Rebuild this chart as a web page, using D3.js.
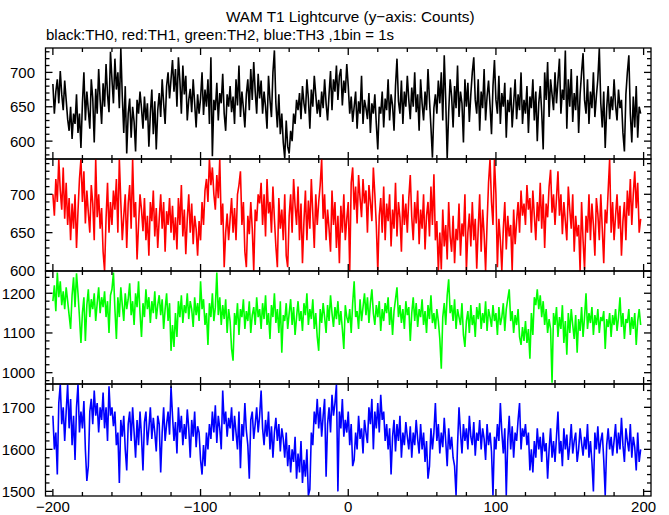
<!DOCTYPE html>
<html><head><meta charset="utf-8">
<script src="https://cdn.jsdelivr.net/npm/d3@7/dist/d3.min.js"></script>
<style>body{margin:0;background:#fff}svg{display:block}text{font-family:"Liberation Sans",Arial,sans-serif}</style>
</head><body>
<svg id="c" width="669" height="515"></svg>
<script>
// ---- data (counts per 1 s bin, first bin at t = -200 s) ----
const binStart = -200;
const binSize = 1;

const th0 = [
683,640,672,690,655,702,668,645,688,660,632,615,650,603,640,625,668,612,640,590,
655,700,630,672,645,618,690,662,598,676,640,705,660,625,684,650,712,668,642,730,
690,655,720,675,700,648,735,665,612,680,582,640,662,605,650,628,585,660,640,672,
648,618,665,630,655,592,640,675,610,658,588,645,670,635,690,655,625,680,700,662,
690,718,672,705,650,722,688,640,710,668,695,630,660,676,642,690,655,620,668,640,
662,700,638,675,650,690,625,722,578,660,645,685,630,670,655,698,640,615,668,650,
680,642,665,625,690,652,710,635,672,648,620,668,690,645,705,660,715,672,640,698,
662,688,640,672,650,618,695,660,635,700,732,655,620,668,610,640,598,575,630,592,
582,615,600,640,625,660,645,670,632,680,655,640,690,662,618,675,650,695,668,640,
660,635,672,648,690,655,630,668,702,645,690,672,710,660,695,705,652,688,670,712,
680,640,665,628,650,672,618,658,640,695,625,660,648,632,670,612,655,640,668,625,
588,650,640,672,620,662,645,690,630,668,652,615,680,720,658,640,688,625,672,650,
695,660,632,678,650,700,642,668,615,690,655,630,672,645,705,660,620,576,648,668,
640,688,655,700,630,725,660,575,642,690,665,620,680,648,710,635,672,655,598,690,
650,685,628,668,700,722,660,640,690,615,672,648,705,630,665,688,652,610,680,718,
660,640,695,625,670,650,685,605,660,642,678,620,655,690,632,668,645,700,625,660,
640,680,612,665,648,690,630,672,600,655,680,642,588,700,660,715,635,690,668,645,
700,655,688,720,640,675,660,732,618,690,650,705,628,670,645,695,612,668,700,728,
660,640,690,625,672,648,700,635,665,690,735,655,620,672,590,648,680,632,665,645,
690,652,630,675,648,660,612,585,668,700,725,640,598,665,620,680,605,650,640
];

const th1 = [
700,672,720,690,746,705,680,735,668,715,660,695,640,688,655,700,630,678,720,746,
690,730,662,705,676,650,712,688,640,746,670,700,655,682,625,600,668,715,650,690,
660,705,680,720,650,746,690,640,672,700,630,688,712,655,746,670,690,615,660,700,
680,652,695,640,672,620,690,665,705,645,682,630,668,700,655,690,625,678,660,695,
650,685,640,670,628,695,660,712,645,680,622,668,700,650,688,635,672,655,620,665,
640,690,660,705,720,690,746,712,735,700,680,725,695,746,660,688,605,650,675,640,
668,695,650,682,640,700,712,730,660,690,625,605,672,648,690,655,600,680,665,700,
688,715,660,700,645,720,675,690,650,710,668,632,605,695,655,680,640,700,620,605,
672,700,650,720,685,660,710,640,688,610,665,705,640,692,655,720,675,630,700,660,
690,712,746,668,700,640,680,655,625,705,660,690,630,672,610,685,650,700,640,668,
690,600,715,735,680,710,662,725,695,670,720,688,705,650,712,690,665,735,700,660,
600,672,695,650,710,640,688,665,700,632,680,655,715,645,690,670,625,700,660,688,
650,695,725,670,640,690,662,705,635,680,655,700,628,672,690,645,710,660,726,640,
665,600,650,602,680,632,660,615,690,645,625,672,610,655,640,688,620,662,645,700,
600,650,675,632,690,640,668,603,655,700,625,680,648,600,662,715,746,690,660,746,
700,605,668,640,600,655,690,628,672,645,660,600,680,635,665,690,650,705,672,688,
660,712,680,695,650,705,672,640,690,665,715,655,700,630,688,670,710,732,676,700,
660,695,730,672,700,648,690,665,640,710,680,655,700,625,672,645,660,600,690,640,
602,672,650,700,640,688,660,620,695,675,640,700,655,610,680,662,705,746,650,690,
640,672,700,655,685,620,665,690,640,705,672,720,660,700,730,682,715,650,668
];

const th2 = [
1180,1220,1155,1252,1190,1230,1170,1205,1160,1215,1180,1145,1110,1195,1240,1165,1250,1200,1140,1075,
1150,1190,1080,1170,1210,1140,1185,1160,1200,1130,1175,1215,1150,1190,1165,1205,1140,1180,1100,1195,
1210,1252,1160,1085,1190,1140,1215,1170,1130,1200,1160,1185,1225,1145,1180,1120,1200,1165,1230,1150,
1090,1175,1140,1210,1160,1190,1125,1180,1150,1205,1135,1170,1195,1145,1185,1110,1160,1200,1130,1175,
1055,1120,1065,1150,1090,1180,1140,1195,1125,1170,1150,1200,1135,1180,1160,1115,1190,1145,1175,1130,
1230,1160,1185,1120,1150,1070,1175,1140,1200,1130,1165,1252,1145,1190,1120,1170,1135,1185,1100,1160,
1130,1060,1030,1150,1120,1175,1095,1160,1140,1185,1110,1155,1130,1180,1100,1145,1165,1120,1190,1140,
1160,1110,1175,1135,1195,1120,1150,1085,1170,1140,1200,1125,1160,1100,1180,1050,1145,1130,1175,1110,
1150,1185,1120,1165,1095,1140,1180,1130,1155,1105,1175,1145,1200,1120,1160,1135,1185,1110,1150,1090,
1055,1160,1125,1175,1140,1100,1170,1130,1195,1150,1115,1165,1135,1180,1120,1155,1110,1060,1170,1140,
1125,1160,1100,1175,1230,1140,1155,1110,1185,1130,1165,1200,1145,1190,1125,1175,1210,1150,1120,1170,
1140,1180,1105,1160,1130,1175,1150,1190,1120,1165,1095,1155,1185,1215,1140,1170,1125,1160,1110,1180,
1145,1165,1080,1150,1190,1130,1175,1115,1160,1140,1185,1120,1155,1100,1170,1135,1195,1125,1150,1110,
1160,1130,1085,1010,1140,1175,1120,1195,1235,1150,1170,1130,1185,1110,1160,1140,1120,1175,1095,1065,
1130,1155,1100,1170,1120,1145,1090,1165,1135,1175,1110,1150,1125,1180,1105,1160,1140,1115,1170,1130,
1150,1095,1165,1120,1140,1175,1105,1160,1185,1210,1130,1155,1100,1145,1120,1160,1090,1070,1115,1080,
1130,1075,1110,1035,1150,1095,1190,1170,1210,1160,1195,1140,1180,1120,1160,1100,1135,1110,975,1150,
1120,1165,1090,1140,1110,1170,1075,1130,1045,1150,1100,1160,1120,1085,1145,1050,1135,1105,1165,1090,
1140,1200,1110,1150,1125,1165,1095,1145,1120,1160,1100,1140,1130,1155,1060,1135,1115,1150,1090,1145,
1120,1160,1105,1140,1190,1115,1150,1085,1135,1125,1160,1095,1140,1110,1150,1070,1130,1160,1120
];

const th3 = [
1680,1600,1640,1540,1710,1755,1660,1700,1620,1690,1755,1650,1720,1610,1680,1575,1700,1755,1640,1690,
1650,1715,1600,1525,1560,1690,1720,1660,1740,1680,1710,1640,1700,1670,1735,1650,1700,1620,1750,1680,
1700,1655,1690,1610,1640,1520,1670,1630,1680,1600,1550,1660,1690,1620,1700,1640,1580,1670,1610,1690,
1630,1550,1665,1690,1610,1650,1700,1625,1675,1640,1595,1680,1660,1545,1640,1700,1620,1660,1690,1635,
1750,1680,1620,1665,1590,1700,1640,1680,1610,1660,1625,1695,1650,1580,1670,1630,1690,1605,1655,1640,
1575,1540,1610,1560,1640,1600,1660,1625,1690,1640,1705,1615,1680,1650,1600,1740,1660,1690,1630,1675,
1650,1700,1620,1680,1640,1600,1690,1555,1660,1630,1710,1645,1610,1530,1670,1690,1625,1660,1700,1640,
1680,1740,1650,1610,1670,1630,1690,1600,1655,1580,1640,1675,1620,1660,1595,1650,1625,1580,1640,1560,
1610,1545,1600,1570,1630,1530,1590,1545,1620,1520,1575,1535,1600,1490,1505,1640,1610,1690,1660,1720,
1650,1700,1630,1680,1720,1535,1660,1700,1640,1730,1680,1710,1755,1500,1690,1650,1720,1630,1670,1640,
1690,1610,1660,1560,1575,1640,1600,1680,1625,1650,1590,1670,1640,1615,1700,1660,1720,1600,1690,1650,
1710,1640,1730,1670,1690,1620,1660,1600,1650,1540,1630,1670,1595,1660,1620,1680,1580,1640,1610,1665,
1630,1600,1655,1580,1640,1610,1670,1625,1590,1660,1600,1640,1570,1620,1530,1560,1650,1600,1640,1710,
1620,1660,1590,1640,1605,1675,1620,1560,1650,1600,1630,1580,1560,1490,1610,1700,1640,1590,1660,1620,
1650,1600,1680,1630,1610,1665,1585,1640,1620,1670,1600,1650,1625,1575,1660,1610,1640,1595,1490,1630,
1600,1660,1620,1710,1640,1590,1650,1490,1620,1680,1600,1655,1580,1640,1620,1670,1710,1600,1650,1630,
1660,1610,1640,1550,1600,1545,1620,1580,1650,1600,1630,1570,1640,1595,1615,1530,1600,1650,1580,1620,
1570,1630,1690,1590,1620,1560,1650,1600,1635,1575,1610,1660,1590,1620,1640,1570,1600,1650,1615,1585,
1630,1600,1660,1580,1620,1570,1500,1640,1600,1655,1590,1620,1640,1575,1490,1610,1650,1600,1630,1585,
1620,1660,1590,1640,1600,1675,1610,1570,1650,1620,1595,1660,1580,1630,1605,1550,1640,1570,1600
];

const seriesNames = ["TH0", "TH1", "TH2", "TH3"];
const yTickLabels = [[600, 650, 700], [600, 650, 700], [1000, 1100, 1200], [1500, 1600, 1700]];
const xTickLabels = [-200, -100, 0, 100, 200];
const titleText = "WAM T1 Lightcurve (y\u2212axis: Counts)";
const subtitleText = "black:TH0, red:TH1, green:TH2, blue:TH3 ,1bin = 1s";

// ---- layout / style ----
const series = [th0, th1, th2, th3];
const colors = ["#000000", "#ff0000", "#00ff00", "#0000ff"];
const yDomains = [[574, 735.5], [600, 746], [971.5, 1256], [1489, 1755.5]];
const yMinorStep = [10, 10, 20, 20];
const panelTop = [48, 159, 271, 384];
const panelBot = [159, 271, 384, 496];
const L = 45.5, R = 651;
const MAJ = 7, MIN = 4;

const svg = d3.select("#c");
const x = d3.scaleLinear().domain([-205, 205]).range([L, R]);
const fmt = d3.format("");

svg.append("text").attr("x", (L + R) / 2 + 2).attr("y", 22).attr("text-anchor", "middle")
  .attr("font-size", 15.3).text(titleText);
svg.append("text").attr("x", 46).attr("y", 40).attr("font-size", 15).text(subtitleText);

const xMinor = d3.range(-200, 201, 20);

series.forEach((vals, k) => {
  const top = panelTop[k], bot = panelBot[k];
  const y = d3.scaleLinear().domain(yDomains[k]).range([bot, top]);
  const g = svg.append("g");
  const cid = "clip" + k;
  svg.append("clipPath").attr("id", cid).append("rect")
    .attr("x", L).attr("y", top).attr("width", R - L).attr("height", bot - top);

  const data = vals.map((v, i) => ({ t: binStart + i * binSize, v }));
  const line = d3.line().x(d => x(d.t)).y(d => y(d.v));
  g.append("path").datum(data).attr("clip-path", `url(#${cid})`)
    .attr("d", line).attr("fill", "none").attr("stroke", colors[k])
    .attr("stroke-width", 1.6).attr("stroke-linejoin", "miter").attr("stroke-miterlimit", 2);

  // frame
  g.append("rect").attr("x", L).attr("y", top).attr("width", R - L).attr("height", bot - top)
    .attr("fill", "none").attr("stroke", "#000").attr("stroke-width", 1.3);

  // x ticks (inward, top & bottom)
  xMinor.forEach(t => {
    const len = xTickLabels.includes(t) ? MAJ : MIN;
    const px = x(t);
    g.append("line").attr("x1", px).attr("x2", px).attr("y1", bot).attr("y2", bot - len)
      .attr("stroke", "#000").attr("stroke-width", 1.3);
    g.append("line").attr("x1", px).attr("x2", px).attr("y1", top).attr("y2", top + len)
      .attr("stroke", "#000").attr("stroke-width", 1.3);
  });

  // y ticks (inward, left & right)
  const [d0, d1] = yDomains[k];
  const st = yMinorStep[k];
  const majors = yTickLabels[k];
  const minors = d3.range(Math.ceil(d0 / st) * st, d1 + 0.001, st);
  minors.forEach(v => {
    const len = majors.includes(v) ? MAJ : MIN;
    const py = y(v);
    g.append("line").attr("x1", L).attr("x2", L + len).attr("y1", py).attr("y2", py)
      .attr("stroke", "#000").attr("stroke-width", 1.3);
    g.append("line").attr("x1", R).attr("x2", R - len).attr("y1", py).attr("y2", py)
      .attr("stroke", "#000").attr("stroke-width", 1.3);
  });

  majors.forEach(v => {
    svg.append("text").attr("x", 35).attr("y", y(v)).attr("dy", "0.36em")
      .attr("text-anchor", "end").attr("font-size", 15).text(fmt(v));
  });
});

xTickLabels.forEach(t => {
  svg.append("text").attr("x", x(t)).attr("y", 512).attr("text-anchor", "middle")
    .attr("font-size", 15).text(d3.format("")(t));
});
</script>
</body></html>
